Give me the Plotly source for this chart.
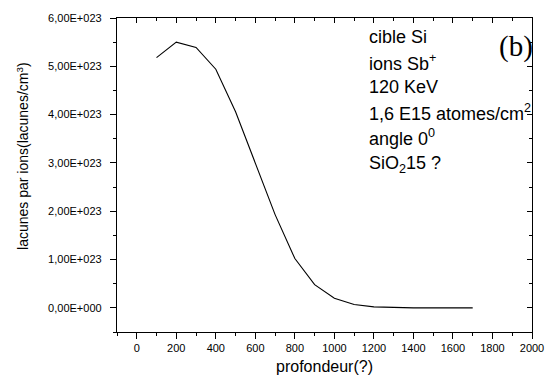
import plotly.graph_objects as go

# Vacancy depth profile (values in units of 1e23 lacunes/cm^3)
profondeur = [100, 200, 300, 400, 500, 600, 700, 800, 900, 1000,
              1100, 1200, 1300, 1400, 1500, 1600, 1700]
lacunes_e23 = [5.18, 5.50, 5.39, 4.94, 4.06, 3.00, 1.93, 1.02, 0.48, 0.20,
               0.07, 0.02, 0.005, 0.0, 0.0, 0.0, 0.0]
lacunes = [v * 1e23 for v in lacunes_e23]

x_ticks = [0, 200, 400, 600, 800, 1000, 1200, 1400, 1600, 1800, 2000]
y_ticks_e23 = [0, 1, 2, 3, 4, 5, 6]
y_tick_labels = ["0,00E+000", "1,00E+023", "2,00E+023", "3,00E+023",
                 "4,00E+023", "5,00E+023", "6,00E+023"]
y_ticks = [v * 1e23 for v in y_ticks_e23]

x_title = "profondeur(?)"
y_title = "lacunes par ions(lacunes/cm<sup>3</sup>)"
info_lines = [
    "cible Si",
    "ions Sb<sup>+</sup>",
    "120 KeV",
    "1,6 E15 atomes/cm<sup>2</sup>",
    "angle 0<sup>0</sup>",
    "SiO<sub>2</sub>15 ?",
]
panel_tag = "(b)"

W, H = 556, 385
L, R, T, B = 117, 14, 16, 52
x_range = [-100, 2000]
y_range = [-0.5e23, 6.0e23]
font_sans = "Arial, Liberation Sans, sans-serif"

fig = go.Figure()
fig.add_trace(go.Scatter(x=profondeur, y=lacunes, mode="lines",
                         line=dict(color="black", width=1.1),
                         showlegend=False, hoverinfo="skip"))
# helper trace so the mirrored top/right axes are drawn
fig.add_trace(go.Scatter(x=[None], y=[None], xaxis="x2", yaxis="y2",
                         showlegend=False, hoverinfo="skip"))

axis_common = dict(showgrid=False, zeroline=False, showline=True,
                   linecolor="black", linewidth=1.3, ticks="outside",
                   ticklen=6, tickwidth=1, tickcolor="black")

fig.update_layout(
    width=W, height=H,
    margin=dict(l=L, r=R, t=T, b=B),
    paper_bgcolor="white", plot_bgcolor="white",
    font=dict(family=font_sans, color="black", size=11),
    xaxis=dict(**axis_common, range=x_range, tickvals=x_ticks,
               tickfont=dict(size=11),
               minor=dict(dtick=100, ticklen=3, ticks="outside",
                          tickcolor="black"),
               title=dict(text=x_title, font=dict(size=16), standoff=7)),
    yaxis=dict(**axis_common, range=y_range, tickvals=y_ticks,
               ticktext=y_tick_labels, tickfont=dict(size=11),
               ticklabelstandoff=6,
               minor=dict(dtick=0.5e23, tick0=0, ticklen=3,
                          ticks="outside", tickcolor="black")),
    xaxis2=dict(overlaying="x", side="top", anchor="y2", range=x_range,
                showgrid=False, zeroline=False, showline=True,
                linecolor="black", linewidth=1.3, ticks="inside",
                ticklen=5, tickcolor="black", tickvals=x_ticks,
                showticklabels=False,
                minor=dict(dtick=100, ticklen=3, ticks="inside",
                           tickcolor="black")),
    yaxis2=dict(overlaying="y", side="right", anchor="x2", range=y_range,
                showgrid=False, zeroline=False, showline=True,
                linecolor="black", linewidth=1.3, ticks="inside",
                ticklen=5, tickcolor="black", tickvals=y_ticks,
                showticklabels=False,
                minor=dict(dtick=0.5e23, tick0=0, ticklen=3,
                           ticks="inside", tickcolor="black")),
)

pw, ph = W - L - R, H - T - B


def to_paper(px, py):
    return (px - L) / pw, (H - B - py) / ph


# rotated y-axis title
tx, ty = to_paper(20, 155)
fig.add_annotation(text=y_title, x=tx, y=ty, xref="paper", yref="paper",
                   xanchor="center", yanchor="middle", textangle=-90,
                   showarrow=False,
                   font=dict(family=font_sans, size=14, color="black"))

line_centres = [35, 61, 86, 111, 137, 164]
for text, cy in zip(info_lines, line_centres):
    xp, yp = to_paper(373, cy)
    fig.add_annotation(text=text, x=xp, y=yp, xref="paper", yref="paper",
                       xanchor="left", yanchor="middle", showarrow=False,
                       font=dict(family=font_sans, size=18, color="black"))

bx, by = to_paper(526, 45)
fig.add_annotation(text=panel_tag, x=bx, y=by, xref="paper", yref="paper",
                   xanchor="center", yanchor="middle", showarrow=False,
                   font=dict(family="Times New Roman, Liberation Serif, serif",
                             size=29, color="black"))

fig.write_html("out.html")
